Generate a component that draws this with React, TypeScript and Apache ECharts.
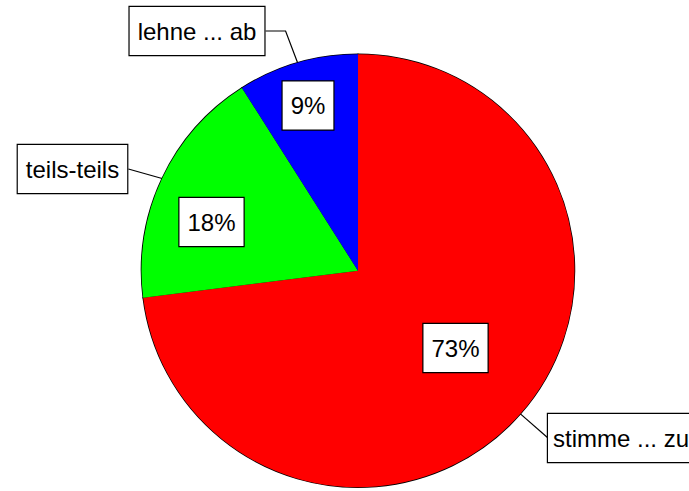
import React, { useEffect, useRef } from "react";
import * as echarts from "echarts";

const categories = ["stimme ... zu", "teils-teils", "lehne ... ab"];
const values = [73, 18, 9];
const colors = ["#FF0000", "#00FF00", "#0000FF"];

// layout of label boxes (centers / anchors), not data
const innerPos: [number, number][] = [
  [455.5, 348],
  [211.5, 222],
  [308, 105.5],
];
const outerPos: { x: number; y: number; align: "left" | "center" }[] = [
  { x: 548, y: 438, align: "left" },
  { x: 72.5, y: 169, align: "center" },
  { x: 197, y: 31, align: "center" },
];

const FONT = "'Liberation Sans', Arial, Helvetica, sans-serif";

export default function App() {
  const ref = useRef<HTMLDivElement>(null);
  useEffect(() => {
    if (!ref.current) return;
    const chart = echarts.init(ref.current, undefined, { renderer: "svg" });
    const boxStyle = {
      fontFamily: FONT,
      fontSize: 24,
      lineHeight: 24,
      color: "#000",
      backgroundColor: "#fff",
      borderColor: "#000",
      borderWidth: 1.2,
      padding: [12, 8],
    };
    const data = categories.map((name, i) => ({
      name,
      value: values[i],
      itemStyle: { color: colors[i] },
    }));
    const outerData = data.map((d, i) =>
      i === 0 ? { ...d, label: { padding: [12, 6, 12, 5] } } : d
    );
    chart.setOption({
      animation: false,
      backgroundColor: "#fff",
      series: [
        {
          type: "pie",
          center: [358, 270.7],
          radius: 216.5,
          startAngle: 90,
          clockwise: true,
          avoidLabelOverlap: false,
          data: outerData,
          itemStyle: { borderColor: "#000", borderWidth: 1.5 },
          label: {
            show: true,
            position: "outside",
            formatter: "{b}",
            ...boxStyle,
          },
          labelLine: {
            show: true,
            length: 10,
            length2: 10,
            lineStyle: { color: "#000", width: 1.2 },
          },
          labelLayout: (params: any) => {
            const p = outerPos[params.dataIndex];
            const w = params.labelRect.width;
            const anchor = params.labelLinePoints
              ? params.labelLinePoints[0]
              : [0, 0];
            let pts: number[][];
            if (params.dataIndex === 0) {
              const pt = [p.x, p.y];
              pts = [anchor, pt, pt];
            } else if (params.dataIndex === 1) {
              const pt = [p.x + w / 2, p.y];
              pts = [anchor, pt, pt];
            } else {
              const right = p.x + w / 2;
              pts = [anchor, [right + 20, p.y], [right, p.y]];
            }
            return {
              x: p.x,
              y: p.y,
              align: p.align,
              verticalAlign: "middle",
              labelLinePoints: pts,
            };
          },
          emphasis: { disabled: true },
        },
        {
          type: "pie",
          center: [358, 270.7],
          radius: 216.5,
          startAngle: 90,
          clockwise: true,
          avoidLabelOverlap: false,
          silent: true,
          data,
          itemStyle: { color: "rgba(0,0,0,0)", borderWidth: 0 },
          label: {
            show: true,
            position: "inside",
            formatter: (p: any) => `${p.value}%`,
            ...boxStyle,
          },
          labelLine: { show: false },
          labelLayout: (params: any) => {
            const p = innerPos[params.dataIndex];
            return {
              x: p[0],
              y: p[1],
              align: "center",
              verticalAlign: "middle",
            };
          },
          emphasis: { disabled: true },
        },
      ],
    });
    return () => chart.dispose();
  }, []);
  return (
    <div
      ref={ref}
      style={{ position: "fixed", left: 0, top: 0, width: 689, height: 491 }}
    />
  );
}
